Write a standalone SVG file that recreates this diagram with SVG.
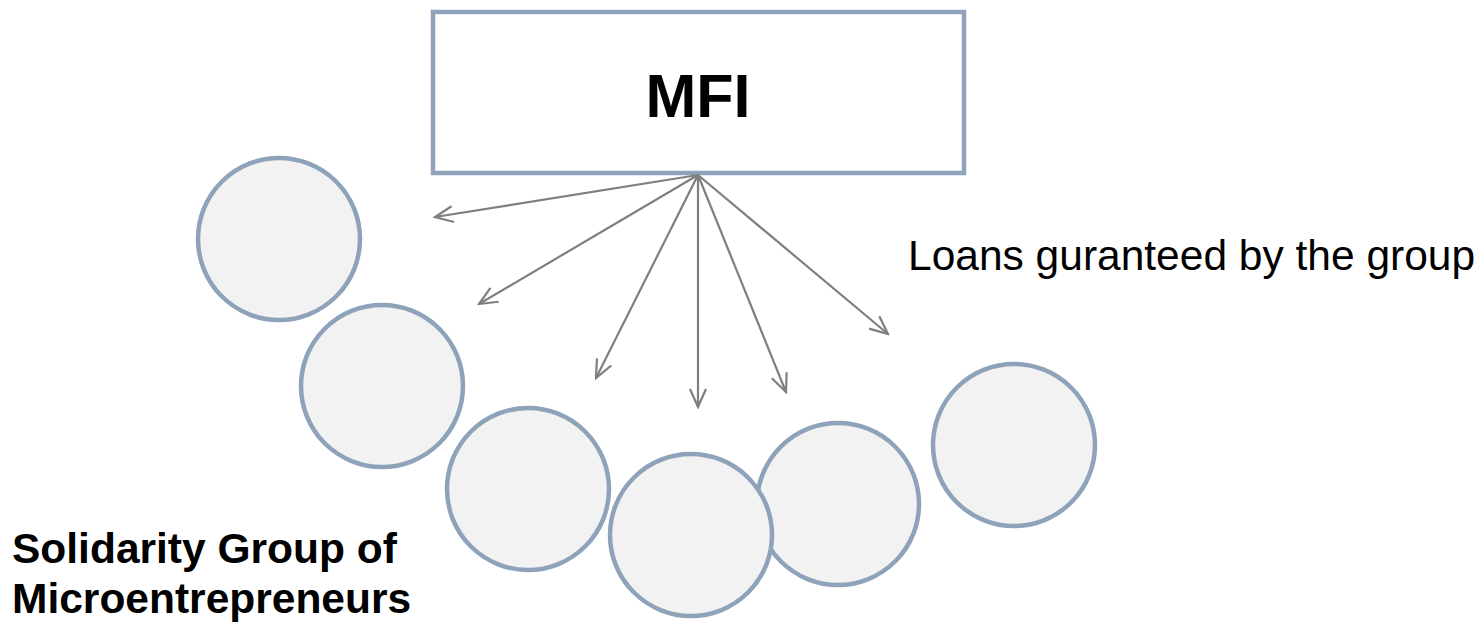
<svg xmlns="http://www.w3.org/2000/svg" width="1484" height="622" viewBox="0 0 1484 622">
<style>
.node{fill:#F2F2F2;stroke:#8EA3BA;stroke-width:4.5}
.box{fill:#FFFFFF;stroke:#8EA3BA;stroke-width:4.5}
.conn{stroke:#7F7F7F;stroke-width:2.2;fill:none;marker-end:url(#arr)}
.t{font-family:"Liberation Sans",Arial,sans-serif;fill:#000}
</style>
<defs>
<marker id="arr" viewBox="0 0 22 22" refX="20" refY="11" markerWidth="22" markerHeight="22" markerUnits="userSpaceOnUse" orient="auto">
<path d="M2,3 L20,11 L2,19" fill="none" stroke="#7F7F7F" stroke-width="2.2"/>
</marker>
</defs>
<rect width="1484" height="622" fill="#FFFFFF"/>
<g id="mfi">
<rect class="box" x="433" y="12" width="531" height="161"/>
<text class="t" x="698" y="117" font-size="61" font-weight="bold" text-anchor="middle">MFI</text>
</g>
<g id="members">
<circle id="m1" class="node" cx="279" cy="239" r="81"/>
<circle id="m2" class="node" cx="382" cy="386" r="81"/>
<circle id="m3" class="node" cx="528" cy="489" r="81"/>
<circle id="m5" class="node" cx="838" cy="504" r="81"/>
<circle id="m6" class="node" cx="1014" cy="445" r="81"/>
<circle id="m4" class="node" cx="691" cy="535" r="81"/>
</g>
<g id="connectors">
<line class="conn" x1="698" y1="175" x2="435" y2="217"/>
<line class="conn" x1="698" y1="175" x2="479" y2="304"/>
<line class="conn" x1="698" y1="175" x2="596" y2="378"/>
<line class="conn" x1="698" y1="175" x2="698" y2="407"/>
<line class="conn" x1="698" y1="175" x2="786" y2="392"/>
<line class="conn" x1="698" y1="175" x2="888" y2="334"/>
</g>
<g id="label-loans">
<text class="t" x="908" y="270" font-size="42.5">Loans guranteed by the group</text>
</g>
<g id="label-group">
<text class="t" x="12" y="563" font-size="42.5" font-weight="bold">Solidarity Group of</text>
<text class="t" x="12" y="613" font-size="42.5" font-weight="bold">Microentrepreneurs</text>
</g>
</svg>
